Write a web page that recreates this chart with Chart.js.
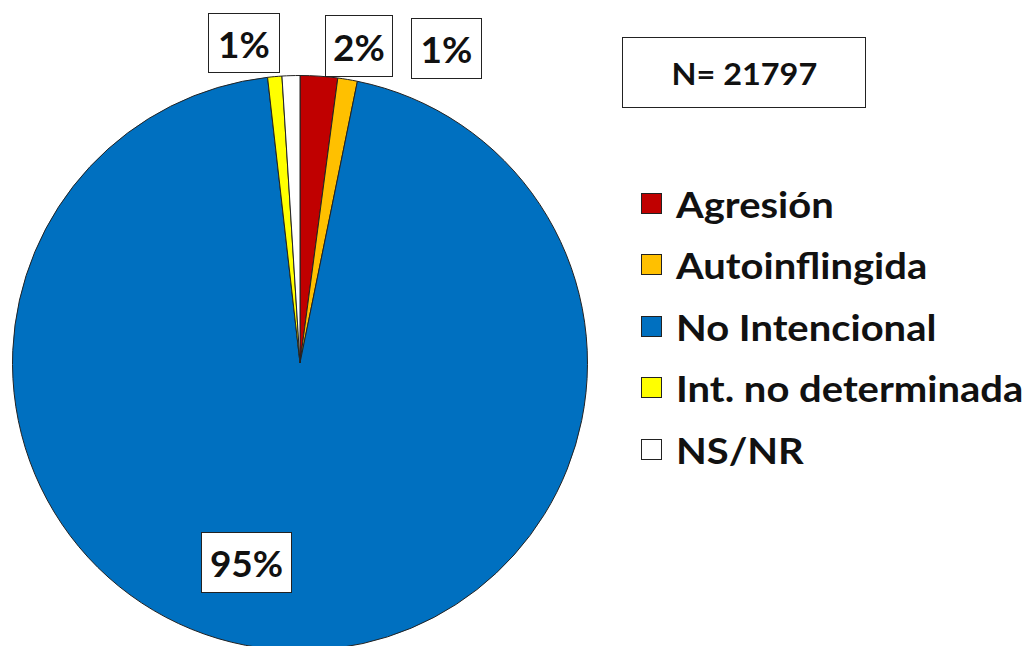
<!DOCTYPE html>
<html>
<head>
<meta charset="utf-8">
<script src="https://cdn.jsdelivr.net/npm/chart.js@4/dist/chart.umd.min.js"></script>
<style>
  html, body { margin:0; padding:0; width:1028px; height:646px; overflow:hidden; background:#fff; }
  #wrap { position:absolute; left:0; top:0; width:600px; height:726px; }
  .box { position:absolute; border:1.5px solid #222; background:#fff; box-sizing:border-box;
         font-family:Lato, "Open Sans", sans-serif; font-weight:bold; color:#111;
         display:flex; align-items:center; justify-content:center; }
  .pct { font-size:37px; }
  #legend { position:absolute; left:641px; top:183px; font-family:Lato, sans-serif; font-weight:bold; color:#111; }
  .li { position:absolute; left:0; height:40px; display:flex; align-items:center; white-space:nowrap; font-size:37px; }
  .sw { width:21px; height:21px; border:1.5px solid #222; box-sizing:border-box; margin-right:14px; flex:none; }
  .tx { display:inline-block; transform:scaleX(1.08); transform-origin:left center; }
</style>
</head>
<body>
<div id="wrap"><canvas id="c" width="600" height="726"></canvas></div>

<div class="box pct" style="left:208px;top:13px;width:72px;height:60px;">1%</div>
<div class="box pct" style="left:325px;top:15px;width:68px;height:62px;">2%</div>
<div class="box pct" style="left:411px;top:18px;width:71px;height:61px;">1%</div>
<div class="box pct" style="left:201px;top:532px;width:91px;height:61px;">95%</div>
<div class="box" style="left:622px;top:37px;width:244px;height:71px;font-size:30px;"><span style="display:inline-block;transform:scaleX(1.08)">N= 21797</span></div>

<div id="legend"></div>

<script>
const categories = ["Agresión", "Autoinflingida", "No Intencional", "Int. no determinada", "NS/NR"];
const values = [2.1, 1.1, 95.0, 0.8, 1.0];
const colors = ["#C00000", "#FFC000", "#0070C0", "#FFFF00", "#FFFFFF"];

const chart = new Chart(document.getElementById('c'), {
  type: 'pie',
  data: {
    labels: categories,
    datasets: [{ data: values, backgroundColor: colors, borderColor: '#222', borderWidth: 1 }]
  },
  options: {
    responsive: false,
    animation: false,
    events: [],
    layout: { padding: { left: 12, right: 12, top: 75, bottom: 75 } },
    plugins: { legend: { display: false }, tooltip: { enabled: false } }
  }
});

const legend = document.getElementById('legend');
categories.forEach((lab, i) => {
  const d = document.createElement('div');
  d.className = 'li';
  d.style.top = (i * 61.5) + 'px';
  const sw = document.createElement('span');
  sw.className = 'sw';
  sw.style.background = colors[i];
  const t = document.createElement('span');
  t.className = 'tx';
  t.textContent = lab;
  d.appendChild(sw); d.appendChild(t);
  legend.appendChild(d);
});
</script>
</body>
</html>
